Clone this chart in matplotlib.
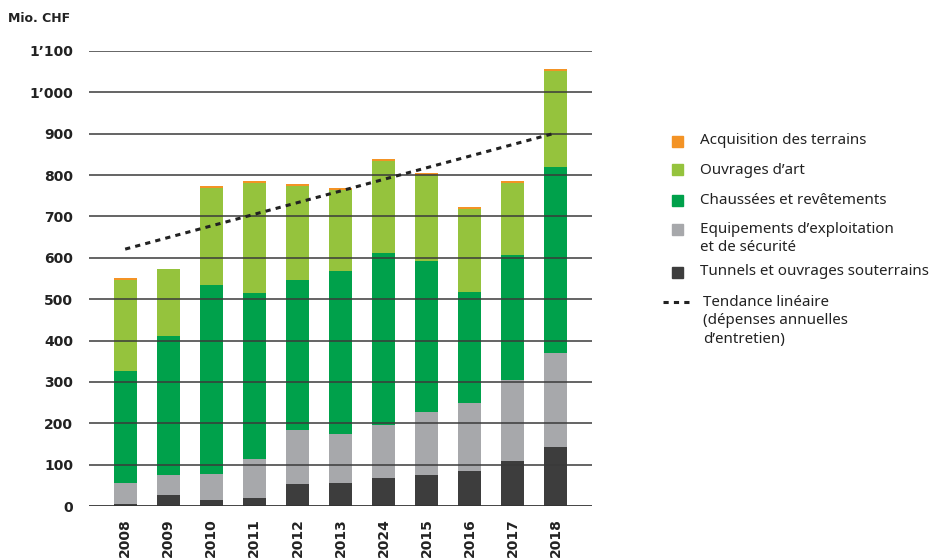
import matplotlib
matplotlib.use("Agg")
import matplotlib.pyplot as plt
from matplotlib.patches import Rectangle
from matplotlib.lines import Line2D
import numpy as np

# values (Mio. CHF)
years = ['2008', '2009', '2010', '2011', '2012', '2013', '2024', '2015', '2016', '2017', '2018']
tunnels = [5, 27, 14, 19, 53, 56, 68, 75, 85, 109, 143]
equipements = [50, 48, 63, 94, 131, 118, 128, 152, 164, 196, 227]
chaussees = [271, 336, 457, 402, 362, 394, 416, 365, 268, 302, 450]
ouvrages = [221, 162, 235, 266, 228, 197, 222, 208, 201, 174, 232]
acquisition = [4, 0, 5, 5, 4, 4, 5, 5, 5, 5, 5]
trend_ends = [621, 902]  # linear trend at first and last year

yticks = [0, 100, 200, 300, 400, 500, 600, 700, 800, 900, 1000, 1100]
yticklabels = ['0', '100', '200', '300', '400', '500', '600', '700', '800', '900',
               '1\u2019000', '1\u2019100']

series = [
    ('Tunnels et ouvrages souterrains', tunnels, '#3d3d3d'),
    ('Equipements d\u2019exploitation\net de s\u00e9curit\u00e9', equipements, '#a7a8ab'),
    ('Chauss\u00e9es et rev\u00eatements', chaussees, '#00a14b'),
    ('Ouvrages d\u2019art', ouvrages, '#95c33d'),
    ('Acquisition des terrains', acquisition, '#f39325'),
]

W, H = 930, 558
fig = plt.figure(figsize=(W / 100, H / 100), dpi=100)
ax = fig.add_axes([89 / W, 1 - 506 / H, (592 - 89) / W, (506 - 51) / H])

x = np.arange(len(years))
bottom = np.zeros(len(years))
for name, vals, col in series:
    ax.bar(x, vals, width=0.53, bottom=bottom, color=col, zorder=2, linewidth=0)
    bottom += np.array(vals)

# gridlines on top of the bars
for v in yticks[1:]:
    ax.axhline(v, color='#3a3a3a', lw=1.1, zorder=3)
ax.axhline(0, color='#333333', lw=2, zorder=3)

ax.plot([x[0], x[-1]], trend_ends, color='#222222', lw=2.2,
        dashes=(1.7, 1.7), dash_capstyle='butt', zorder=4)

ax.set_xlim(-0.84, len(years) - 1 + 0.84)
ax.set_ylim(0, 1100)
for s in ax.spines.values():
    s.set_visible(False)

ax.set_yticks(yticks)
ax.set_yticklabels(yticklabels, fontsize=10, fontweight='bold', color='#222222',
                   family='DejaVu Sans')
ax.set_xticks(x)
ax.set_xticklabels(years, rotation=90, fontsize=10, fontweight='bold',
                   color='#222222', family='DejaVu Sans', va='top')
ax.tick_params(axis='y', length=0, pad=11.5)
ax.tick_params(axis='x', length=0, pad=9)

fig.text(8 / W, 1 - 18 / H, 'Mio. CHF', fontsize=9, fontweight='bold',
         color='#222222', va='center', ha='left', family='DejaVu Sans')

# legend drawn by hand
fs_leg = 10.9
leg_rows = [
    ('Acquisition des terrains', '#f39325', 141),
    ('Ouvrages d\u2019art', '#95c33d', 170),
    ('Chauss\u00e9es et rev\u00eatements', '#00a14b', 200),
    ('Equipements d\u2019exploitation\net de s\u00e9curit\u00e9', '#a7a8ab', 229),
    ('Tunnels et ouvrages souterrains', '#3d3d3d', 272),
]
sq = 11
for label, col, yp in leg_rows:
    fig.patches.append(Rectangle((672 / W, 1 - (yp + sq / 2) / H), sq / W, sq / H,
                                 transform=fig.transFigure, color=col, figure=fig))
    if '\n' in label:
        fig.text(700 / W, 1 - (yp - 7) / H, label, fontsize=fs_leg, color='#222222',
                 va='top', ha='left', family='Noto Sans', linespacing=1.3)
    else:
        fig.text(700 / W, 1 - yp / H, label, fontsize=fs_leg, color='#222222',
                 va='center', ha='left', family='Noto Sans')

fig.lines.append(Line2D([663 / W, 691 / W], [1 - 302 / H, 1 - 302 / H],
                        transform=fig.transFigure, color='#222222', lw=2.2,
                        dashes=(1.7, 1.7), dash_capstyle='butt'))
fig.text(703 / W, 1 - 295 / H,
         'Tendance lin\u00e9aire\n(d\u00e9penses annuelles\nd\u2019entretien)',
         fontsize=fs_leg, color='#222222', va='top', ha='left', family='Noto Sans',
         linespacing=1.3)

fig.savefig('out.png', dpi=100)
